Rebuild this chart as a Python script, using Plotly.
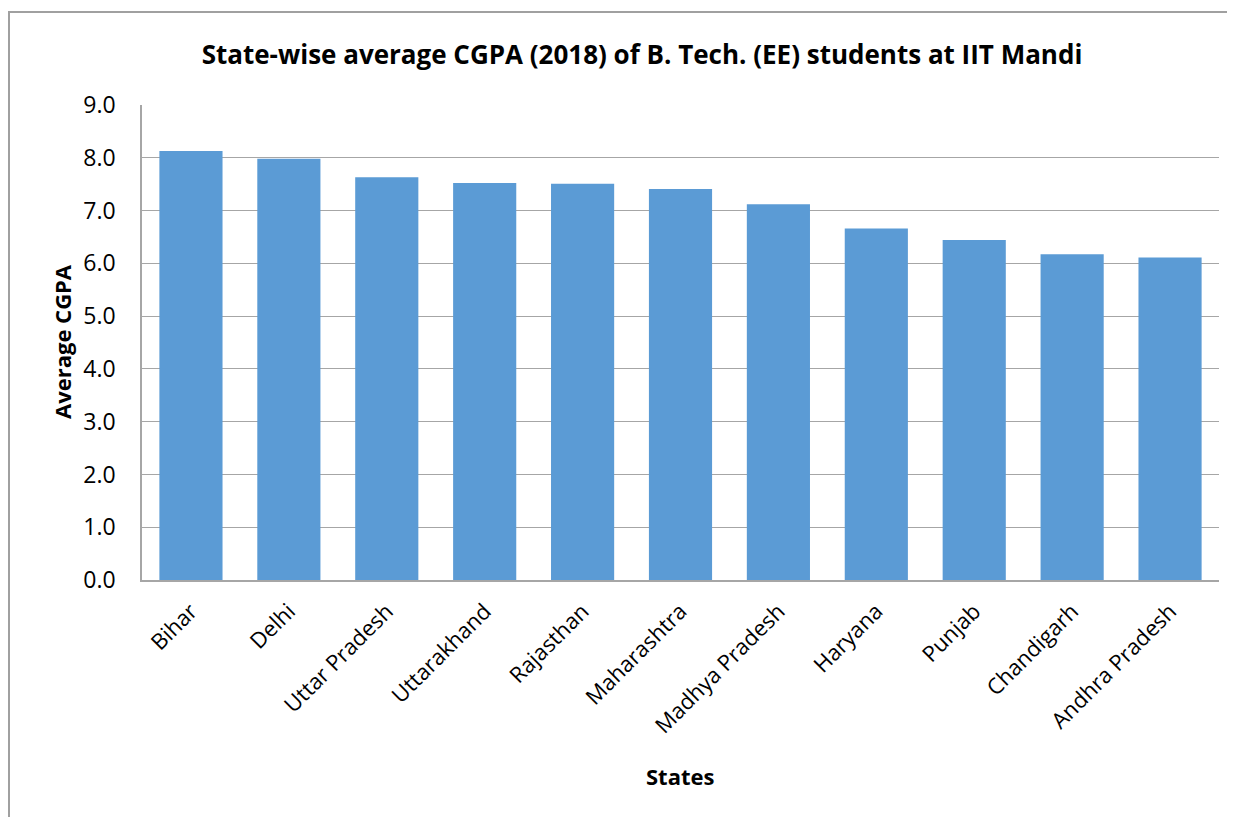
import plotly.graph_objects as go

states = ["Bihar", "Delhi", "Uttar Pradesh", "Uttarakhand", "Rajasthan",
          "Maharashtra", "Madhya Pradesh", "Haryana", "Punjab",
          "Chandigarh", "Andhra Pradesh"]
avg_cgpa = [8.13, 7.98, 7.63, 7.52, 7.51, 7.41, 7.12, 6.66, 6.44, 6.17, 6.11]
y_ticks = [0, 1, 2, 3, 4, 5, 6, 7, 8, 9]

# page body has an 8px margin, so the figure is shifted by that much
off = 8
W, H = 1235 - off, 817 - off
ml, mr, mt, mb = 142 - off, 16, 105 - off, 817 - 580
pw, ph = W - ml - mr, H - mt - mb

font = "Open Sans, Noto Sans, DejaVu Sans, sans-serif"
grid = "#a6a6a6"


def px_x(x):
    return (x - off - ml) / pw


def px_y(y):
    return (H - mb - (y - off)) / ph


fig = go.Figure(
    data=[go.Bar(x=states, y=avg_cgpa, marker=dict(color="#5b9bd5", line_width=0))],
    layout=go.Layout(
        width=W, height=H,
        margin=dict(l=ml, r=mr, t=mt, b=mb),
        paper_bgcolor="white", plot_bgcolor="white",
        bargap=0.355,
        showlegend=False,
        font=dict(family=font, color="black"),
        title=dict(text="<b>State-wise average CGPA (2018) of B. Tech. (EE) students at IIT Mandi</b>",
                   x=px_x(642), xref="paper", xanchor="center",
                   y=1 - (55 - off) / H, yref="container", yanchor="middle",
                   font=dict(size=26, family=font)),
        xaxis=dict(
            tickangle=-45, tickfont=dict(size=22),
            showline=True, linecolor=grid, linewidth=1.5,
            ticks="outside", ticklen=8, tickcolor="rgba(0,0,0,0)",
            showgrid=False,
        ),
        yaxis=dict(
            range=[0, 9], tickvals=y_ticks, tickformat=".1f",
            tickfont=dict(size=23),
            showgrid=True, gridcolor=grid, gridwidth=1.3,
            showline=True, linecolor=grid, linewidth=1.5,
            ticks="outside", ticklen=20, tickcolor="rgba(0,0,0,0)",
            zeroline=False,
        ),
        annotations=[
            dict(text="<b>States</b>", xref="paper", yref="paper",
                 x=px_x(680), y=px_y(776), xanchor="center", yanchor="middle",
                 showarrow=False, font=dict(size=22)),
            dict(text="<b>Average CGPA</b>", xref="paper", yref="paper",
                 x=px_x(62), y=px_y(342), xanchor="center", yanchor="middle",
                 textangle=-90, showarrow=False, font=dict(size=22)),
        ],
    ),
)

# outer chart-area frame (cropped at the right and bottom)
fig.add_shape(type="rect", xref="paper", yref="paper",
              x0=px_x(9), x1=px_x(1260),
              y0=px_y(840), y1=px_y(12),
              line=dict(color="#a0a0a0", width=2), fillcolor="rgba(0,0,0,0)",
              layer="below")

fig.write_html("out.html")
